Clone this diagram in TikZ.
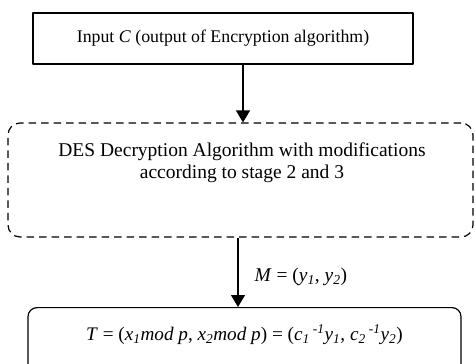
\documentclass[tikz,border=0pt]{standalone}
\usepackage{fontspec}
\setmainfont{Liberation Serif}
\usetikzlibrary{arrows.meta}
\newcommand\dn[1]{\textsubscript{#1}}
\newcommand\hi[1]{\textsuperscript{#1}}
\tikzset{
  solidbox/.style={draw,line width=1.2pt,minimum width=#1,inner sep=0pt},
  dashbox/.style={draw,line width=1.2pt,dash pattern=on 7.5pt off 5pt,
    rounded corners=12pt,minimum width=465pt,minimum height=114pt},
  roundbox/.style={draw,line width=1.2pt,rounded corners=9pt,
    minimum width=433pt,inner ysep=20pt,text height=13pt,text depth=60pt},
  big/.style={font=\fontsize{19.5}{22}\selectfont}
}
\begin{document}
\begin{tikzpicture}[x=1pt,y=-1pt,line join=round,
    font=\fontsize{17.8}{20.5}\selectfont,
    >={Triangle[width=14pt,length=12pt]}]
  \clip (0,0) rectangle (475,364);
  \def\xa{243}
  \def\xb{238}
  % boxes
  \node[solidbox=380pt,minimum height=51pt] (in) at (223,38.5)
    {Input \textit{C} (output of Encryption algorithm)};
  \node[dashbox] (des) at (240.5,180) {};
  \node[big,align=center,anchor=base] (destext) at (242,178)
    {DES Decryption Algorithm with modifications\\according to stage 2 and 3};
  \node[roundbox,big,anchor=north,font=\fontsize{19.2}{22}\selectfont] (out)
    at (244.5,307)
    {\textit{T} = (\textit{x\dn{1}mod p}, \textit{x\dn{2}mod p}) =
     (\textit{c\dn{1}\,\hi{-1}y\dn{1}}, \textit{c\dn{2}\,\hi{-1}y\dn{2}})};
  % arrows
  \coordinate (ca) at (\xa,0);
  \coordinate (cb) at (\xb,0);
  \draw[->,line width=1.2pt] (in.south -| ca) -- (des.north -| ca);
  \draw[->,line width=1.2pt] (des.south -| cb) -- (out.north -| cb);
  \node[big,anchor=base west] (msg) at (251,281)
    {\textit{M} = (\textit{y\dn{1}}, \textit{y\dn{2}})};
\end{tikzpicture}
\end{document}
